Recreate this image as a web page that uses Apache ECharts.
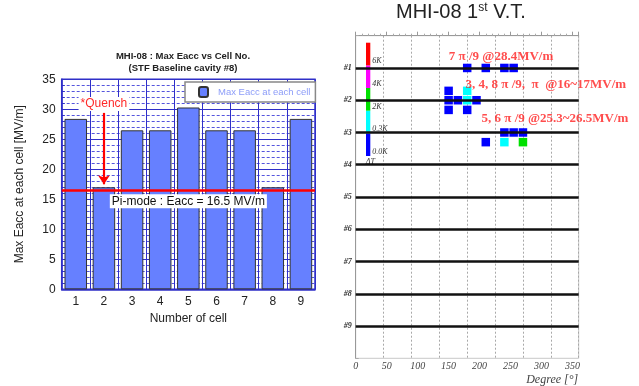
<!DOCTYPE html>
<html><head><meta charset="utf-8">
<script src="https://cdn.jsdelivr.net/npm/echarts@6/dist/echarts.min.js"></script>
<style>html,body{margin:0;padding:0;background:#fff}#c{width:639px;height:386px}</style>
</head><body><div id="c"></div>
<script>
// ---- left chart data ----
const cells = ['1','2','3','4','5','6','7','8','9'];
const maxEacc = [28.4, 17.0, 26.5, 26.5, 30.3, 26.5, 26.5, 17.0, 28.4];
const piModeEacc = 16.5;
const quenchCell = '2';
const quenchArrowFrom = 29.4;
const quenchArrowTo = 17.5;
// ---- right chart data ----
const rowNumbers = [1,2,3,4,5,6,7,8,9];
const hitDeg   = [180,210,240,255, 150,180, 150,165,180,195, 150,180, 240,255,270, 210,240,270];
const hitPos   = [1,1,1,1, 1.71,1.71, 2,2,2,2, 2.3,2.3, 3,3,3, 3.3,3.3,3.3];
const hitLevel = [0,0,0,0, 0,1, 0,0,1,0, 0,0, 0,0,0, 0,1,2];
const levelColors = ['#0000ff','#00ffff','#00e000','#ff00ff','#ff0000'];
const levelLabels = ['0.0K','0.3K','2K','4K','6K'];
const noteText = ['7 π /9 @28.4MV/m', '3, 4, 8 π /9,  π  @16~17MV/m', '5, 6 π /9 @25.3~26.5MV/m'];
const noteDeg = [149.5, 176.5, 202.3];
const notePos = [0.66, 1.53, 2.58];

const BLUE = '#2f2fc8';
const SANS = 'Liberation Sans';
const SERIF = 'Liberation Serif';

const chart = echarts.init(document.getElementById('c'), null, {renderer:'canvas'});
const option = {
  animation: false,
  backgroundColor: '#fff',
  title: [
    {text: 'MHI-08 : Max Eacc vs Cell No.\n(STF Baseline cavity #8)', left: 183, top: 51, padding: 0,
     textAlign: 'center',
     textStyle: {fontSize: 9.5, fontWeight: 'bold', color: '#222', fontFamily: SANS, lineHeight: 11.5}},
    {text: '{a|MHI-08 1}{s|st}{a| V.T.}', left: 396, top: 2, padding: 0, textAlign: 'left',
     textStyle: {fontWeight: 'normal', rich: {
       a: {fontSize: 20, fontFamily: SANS, color: '#222', fontWeight: 'normal'},
       s: {fontSize: 12, fontFamily: SANS, color: '#222', fontWeight: 'normal', verticalAlign: 'top'}
     }}}
  ],
  legend: {
    data: ['Max Eacc at each cell'], left: 185, top: 82, backgroundColor: '#fff',
    borderColor: '#888', borderWidth: 1.5, padding: [4, 5, 4, 13], itemWidth: 9, itemHeight: 10,
    textStyle: {color: '#8c9cf8', fontSize: 9.5, fontFamily: SANS, padding: [0,0,0,5]}
  },
  grid: [
    {left: 61.7, top: 79.3, width: 253.3, height: 210, outerBoundsMode: 'none', containLabel: false,
     show: true, borderColor: BLUE, borderWidth: 1.5, backgroundColor: '#fff'},
    {left: 355.7, top: 35.7, width: 223, height: 322.6, outerBoundsMode: 'none', containLabel: false,
     show: true, borderColor: '#c8c8c8', borderWidth: 1},
    {left: 366, top: 42.7, width: 4.3, height: 113.3, outerBoundsMode: 'none', containLabel: false}
  ],
  xAxis: [
    {gridIndex: 0, type: 'category', data: cells, name: 'Number of cell', nameLocation: 'middle', nameGap: 23,
     nameTextStyle: {fontSize: 12, color: '#222', fontFamily: SANS},
     axisLine: {lineStyle: {color: BLUE, width: 1.5}}, axisTick: {show: false},
     axisLabel: {fontSize: 12, color: '#222', margin: 6, fontFamily: SANS},
     splitLine: {show: true, lineStyle: {color: BLUE, width: 1}}},
    {gridIndex: 1, type: 'value', min: 0, max: 360, interval: 50, position: 'bottom',
     name: 'Degree [°]', nameLocation: 'middle', nameGap: 16, nameMoveOverlap: false,
     nameTextStyle: {align: 'center', padding: [0, 0, 0, 170], fontStyle: 'italic', fontFamily: SERIF, fontSize: 12, color: '#444'},
     axisLine: {lineStyle: {color: '#999'}}, axisTick: {inside: true, length: 4, lineStyle: {color: '#999'}},
     minorTick: {show: true, splitNumber: 5, length: 2, lineStyle: {color: '#aaa'}},
     axisLabel: {fontStyle: 'italic', fontFamily: SERIF, fontSize: 10, color: '#444', margin: 3, showMaxLabel: false},
     splitLine: {show: false}},
    {gridIndex: 1, type: 'value', min: 0, max: 360, interval: 45, position: 'top',
     axisLine: {show: false}, axisTick: {show: false}, axisLabel: {show: false},
     splitLine: {show: true, lineStyle: {color: '#a8a8a8', type: [2, 2], width: 1}}},
    {gridIndex: 2, type: 'category', data: ['ΔT'], show: false}
  ],
  yAxis: [
    {gridIndex: 0, type: 'value', min: 0, max: 35, interval: 5,
     name: 'Max Eacc at each cell [MV/m]', nameLocation: 'middle', nameGap: 36,
     nameTextStyle: {fontSize: 12, color: '#222', fontFamily: SANS},
     axisLine: {show: true, lineStyle: {color: BLUE, width: 1.5}},
     axisTick: {show: true, inside: true, length: 4, lineStyle: {color: BLUE}},
     minorTick: {show: true, splitNumber: 5, length: 3, lineStyle: {color: BLUE}},
     axisLabel: {fontSize: 12, color: '#222', margin: 6, fontFamily: SANS},
     splitLine: {show: true, lineStyle: {color: BLUE, width: 1}},
     minorSplitLine: {show: true, lineStyle: {color: '#5555dd', type: [3, 2], width: 1}}},
    {gridIndex: 1, type: 'value', min: 0, max: 10, interval: 1, inverse: true,
     axisLine: {lineStyle: {color: '#999'}}, axisTick: {show: true, inside: true, length: 3, lineStyle: {color: '#aaa'}},
     axisLabel: {formatter: v => rowNumbers.includes(v) ? '#' + v : '', fontStyle: 'italic', fontWeight: 'bold',
                 fontFamily: SERIF, fontSize: 8, color: '#333', margin: 4},
     splitLine: {show: false}},
    {gridIndex: 2, type: 'value', min: 0, max: 5, interval: 1, position: 'right',
     name: 'ΔT', nameLocation: 'start', nameGap: 2,
     nameTextStyle: {fontStyle: 'italic', fontFamily: SERIF, fontSize: 8, color: '#333'},
     axisLine: {show: false}, axisTick: {show: false}, splitLine: {show: false},
     axisLabel: {formatter: v => levelLabels[v] || '', verticalAlign: 'bottom', fontStyle: 'italic',
                 fontFamily: SERIF, fontSize: 8, color: '#333', margin: 2}}
  ],
  series: [
    {name: 'Max Eacc at each cell', type: 'bar', xAxisIndex: 0, yAxisIndex: 0, data: maxEacc,
     barCategoryGap: '20%', itemStyle: {color: '#6680ff', borderColor: '#333', borderWidth: 1}, silent: true,
     markLine: {silent: true, symbol: ['none', 'none'],
       data: [{yAxis: piModeEacc,
               lineStyle: {color: '#ff0000', width: 2.5, type: 'solid'},
               label: {show: true, position: 'insideMiddleBottom', distance: 4,
                       formatter: 'Pi-mode : Eacc = ' + piModeEacc + ' MV/m',
                       backgroundColor: '#fff', color: '#111', fontSize: 12, fontFamily: SANS, padding: [1, 2]}}]}},
    {name: 'quench', type: 'line', xAxisIndex: 0, yAxisIndex: 0, data: [],
     markLine: {silent: true, symbol: ['none', 'arrow'], symbolSize: 9,
       lineStyle: {color: '#ff0000', width: 2.2, type: 'solid'},
       label: {show: true, position: 'start', distance: 2, formatter: '*Quench', color: '#ff2a2a',
               fontSize: 12, fontFamily: SANS, backgroundColor: '#fff', padding: [1, 2]},
       data: [[{coord: [quenchCell, quenchArrowFrom]}, {coord: [quenchCell, quenchArrowTo]}]]}},
    {name: 'hits', type: 'scatter', xAxisIndex: 1, yAxisIndex: 1, symbol: 'rect', symbolSize: 8.5, silent: true,
     data: hitDeg.map((d, i) => [d, hitPos[i], hitLevel[i]]),
     itemStyle: {opacity: 1, color: p => levelColors[p.value[2]]}},
    {name: 'cells', type: 'line', xAxisIndex: 1, yAxisIndex: 1, data: [],
     markLine: {silent: true, symbol: ['none', 'none'], label: {show: false},
       lineStyle: {color: '#111', width: 2.5, type: 'solid'},
       data: rowNumbers.map(r => ({yAxis: r}))}},
    {name: 'notes', type: 'scatter', xAxisIndex: 1, yAxisIndex: 1, symbolSize: 1, silent: true, z: 6,
     itemStyle: {color: 'transparent'},
     data: noteText.map((t, i) => ({value: [noteDeg[i], notePos[i]], name: t})),
     label: {show: true, position: 'right', distance: 0, formatter: p => p.name,
             color: '#ff2020', fontFamily: SERIF, fontWeight: 'bold', fontSize: 13}}
  ].concat(levelColors.map((c, i) => ({
     name: 'cb' + i, type: 'bar', xAxisIndex: 3, yAxisIndex: 2, stack: 'cb', data: [1],
     barWidth: '100%', silent: true, itemStyle: {color: c}})))
};
chart.setOption(option);
</script></body></html>
